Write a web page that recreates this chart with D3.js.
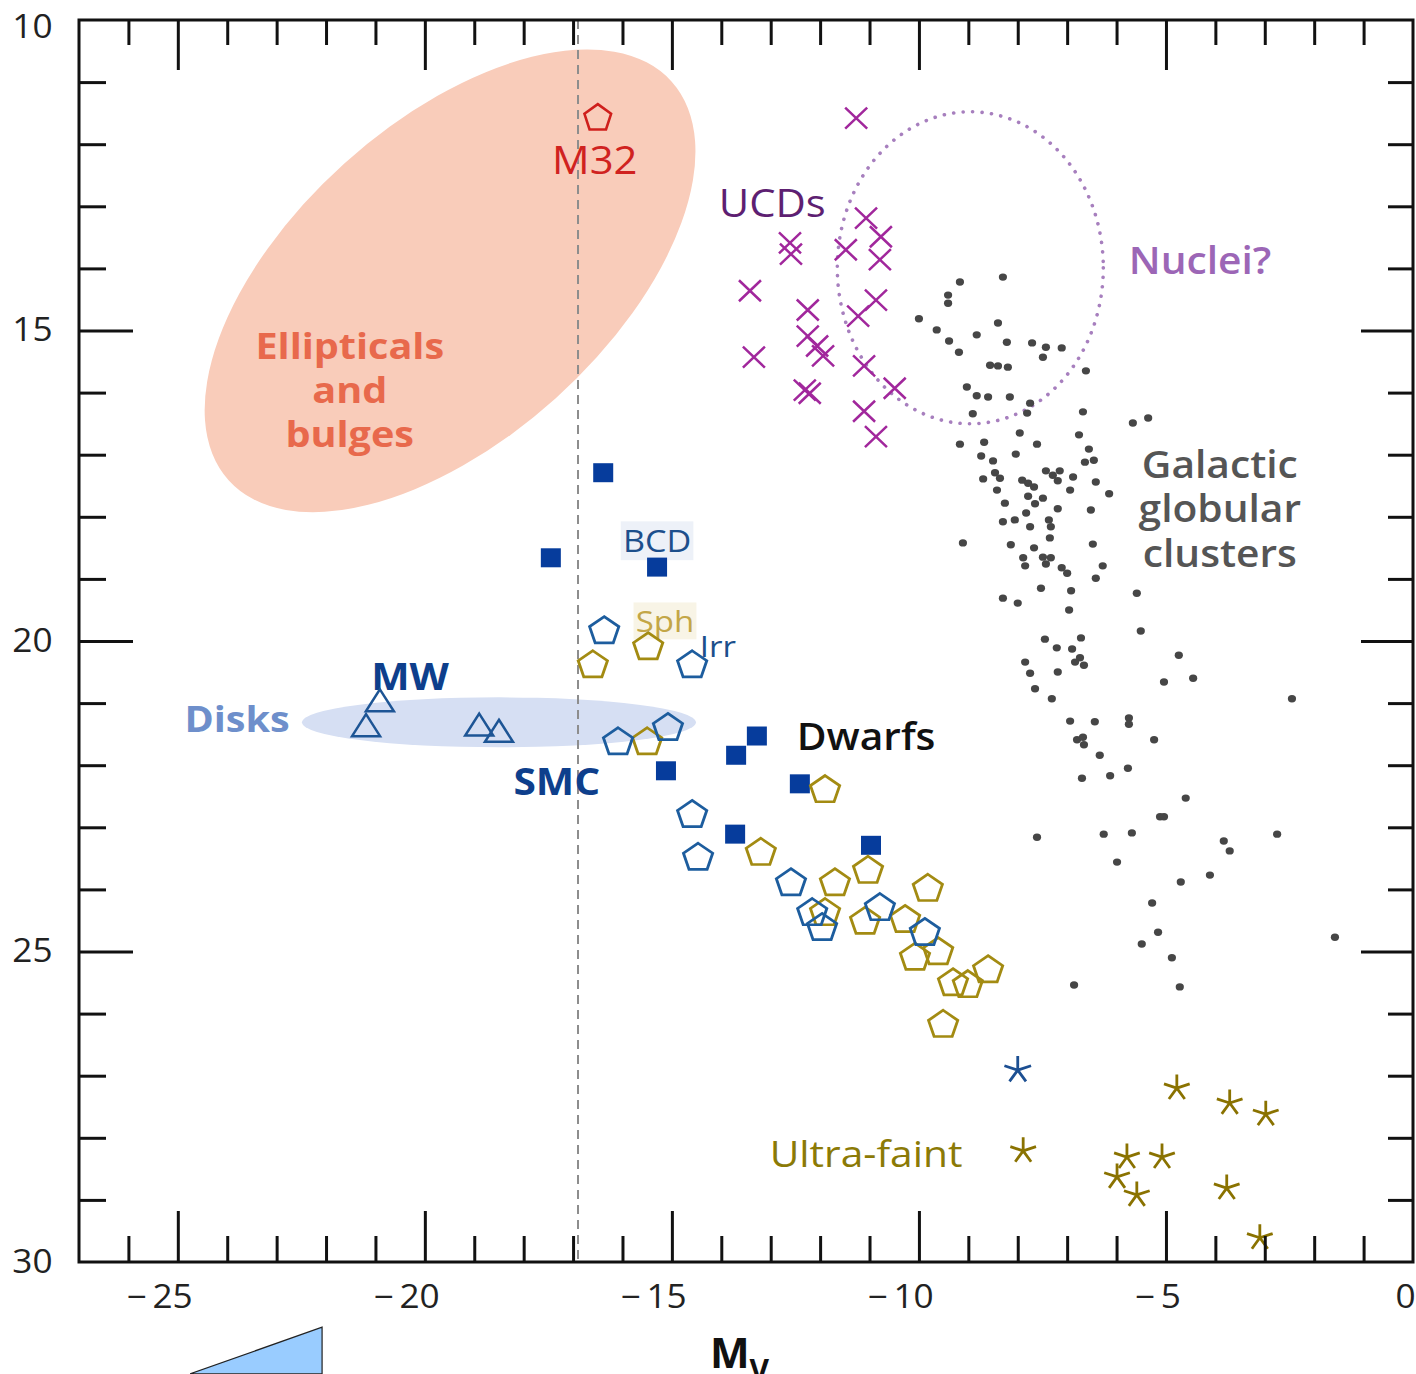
<!DOCTYPE html>
<html>
<head>
<meta charset="utf-8">
<script src="https://cdn.jsdelivr.net/npm/d3@7"></script>
<style>
  html, body { margin: 0; padding: 0; background: #fff; }
  svg { display: block; font-family: "Open Sans", "Noto Sans", sans-serif; }
</style>
</head>
<body>
<svg id="chart" width="1416" height="1374"></svg>
<script>
// ---------- data (M_V, surface-brightness axis value) ----------
const globularClusters = [
  [-9.17,14.22],[-8.30,14.14],[-9.41,14.43],[-9.41,14.56],[-10.00,14.81],[-8.40,14.88],[-9.64,14.99],
  [-8.83,15.07],[-9.39,15.17],[-8.22,15.19],[-7.71,15.20],[-7.43,15.27],[-7.11,15.28],[-7.49,15.43],
  [-9.19,15.35],[-8.56,15.56],[-8.40,15.57],[-8.20,15.59],[-6.62,15.65],[-9.03,15.91],[-8.83,16.05],
  [-8.60,16.07],[-8.16,16.07],[-7.75,16.17],[-7.81,16.33],[-8.91,16.34],[-6.68,16.31],[-5.67,16.49],
  [-5.36,16.41],[-7.96,16.65],[-6.76,16.68],[-9.17,16.83],[-8.68,16.80],[-7.61,16.83],[-8.04,16.99],
  [-6.56,16.91],[-8.74,17.02],[-8.50,17.10],[-6.64,17.12],[-6.46,17.09],[-8.70,17.39],[-8.46,17.29],
  [-8.36,17.38],[-7.91,17.41],[-7.79,17.46],[-7.67,17.52],[-7.43,17.26],[-7.29,17.33],[-7.15,17.26],
  [-7.19,17.42],[-6.88,17.36],[-6.42,17.44],[-8.42,17.57],[-6.94,17.57],[-6.15,17.63],[-7.79,17.67],
  [-7.49,17.70],[-7.65,17.79],[-8.26,17.78],[-7.19,17.87],[-6.52,17.89],[-7.83,17.94],[-8.30,18.08],
  [-8.06,18.05],[-7.75,18.16],[-7.37,18.05],[-7.33,18.16],[-7.35,18.34],[-9.11,18.42],[-8.14,18.45],
  [-7.67,18.50],[-6.48,18.44],[-7.89,18.66],[-7.85,18.79],[-7.49,18.65],[-7.43,18.76],[-7.33,18.66],
  [-7.11,18.82],[-7.00,18.91],[-6.28,18.79],[-6.42,18.99],[-7.53,19.15],[-6.92,19.19],[-5.59,19.23],
  [-8.30,19.31],[-8.00,19.39],[-6.96,19.50],[-5.51,19.84],[-7.45,19.97],[-6.72,19.95],[-7.21,20.11],
  [-6.90,20.13],[-6.74,20.27],[-6.84,20.34],[-6.66,20.39],[-7.85,20.34],[-7.75,20.52],[-7.19,20.50],
  [-4.74,20.23],[-4.45,20.60],[-5.04,20.66],[-2.45,20.93],[-7.65,20.77],[-7.31,20.93],[-6.94,21.29],
  [-6.44,21.30],[-5.75,21.24],[-5.75,21.34],[-6.80,21.59],[-6.68,21.55],[-6.66,21.67],[-5.24,21.59],
  [-6.34,21.84],[-5.77,22.05],[-6.70,22.21],[-6.13,22.17],[-4.60,22.53],[-5.12,22.83],[-5.04,22.83],
  [-7.61,23.16],[-6.26,23.11],[-5.69,23.09],[-3.83,23.22],[-3.71,23.38],[-2.75,23.11],[-5.99,23.56],
  [-4.70,23.88],[-4.11,23.77],[-5.28,24.22],[-5.16,24.69],[-5.49,24.88],[-4.88,25.10],[-1.58,24.77],
  [-6.86,25.54],[-4.72,25.57]
];

const ucds = [
  [-11.27,11.58],[-11.07,13.19],[-10.77,13.49],[-12.61,13.59],[-12.59,13.77],[-11.48,13.70],
  [-10.79,13.86],[-13.42,14.36],[-10.87,14.51],[-12.25,14.67],[-11.23,14.77],[-12.25,15.09],
  [-12.06,15.25],[-11.94,15.41],[-13.34,15.43],[-11.11,15.57],[-12.31,15.96],[-12.21,16.01],
  [-10.49,15.93],[-11.11,16.30],[-10.87,16.71]
];

const m32 = [[-16.50,11.58]];

const bcd = [
  [-16.39,17.29],[-17.45,18.66],[-15.30,18.81],[-13.28,21.53],[-13.70,21.84],
  [-15.12,22.09],[-12.41,22.30],[-13.72,23.11],[-10.97,23.29]
];

const irregulars = [
  [-16.37,19.84],[-14.59,20.39],[-16.09,21.63],[-15.08,21.40],[-14.59,22.80],[-14.47,23.49],
  [-12.59,23.90],[-12.16,24.38],[-11.96,24.62],[-10.79,24.30],[-9.88,24.70]
];

const spheroidals = [
  [-15.48,20.10],[-16.60,20.39],[-15.50,21.63],[-11.90,22.40],[-13.20,23.41],[-11.70,23.90],
  [-11.03,23.70],[-9.82,23.99],[-11.90,24.38],[-11.09,24.52],[-10.28,24.49],[-10.08,25.10],
  [-9.61,25.01],[-9.31,25.51],[-9.01,25.54],[-8.60,25.30],[-9.51,26.18]
];

const disks = [[-20.91,20.98],[-21.19,21.38],[-18.90,21.37],[-18.50,21.47]];

const ultraFaintBlue = [[-8.00,26.91]];

const ultraFaint = [
  [-4.78,27.20],[-3.71,27.44],[-2.98,27.62],[-7.89,28.21],[-5.79,28.31],
  [-5.08,28.31],[-5.99,28.63],[-5.59,28.92],[-3.77,28.81],[-3.10,29.61]
];

const smcMagnitude = -16.9;

// region centres (M_V, axis value)
const ellipticalRegion = [-19.49, 14.2];
const nucleiRegion = [-8.96, 13.99];
const diskRegion = [-18.5, 21.31];

const xMajorTicks = [-25, -20, -15, -10, -5, 0];
const xMinorTicks = [-26,-24,-23,-22,-21,-19,-18,-17,-16,-14,-13,-12,-11,-9,-8,-7,-6,-4,-3,-2,-1];
const yMajorTicks = [10, 15, 20, 25, 30];
const yMinorTicks = [11,12,13,14,16,17,18,19,21,22,23,24,26,27,28,29];

const labels = [
  { text: "M32", at: [-16.56, 12.25], color: "#d0221f", size: 38, weight: 500 },
  { text: "UCDs", at: [-12.97, 12.93], color: "#5e1f72", size: 38, weight: 500 },
  { text: "Nuclei?", at: [-4.31, 13.86], color: "#9c66b6", size: 37, weight: 600 },
  { text: "Ellipticals", at: [-21.52, 15.23], color: "#e8694c", size: 36, weight: 700 },
  { text: "and", at: [-21.52, 15.94], color: "#e8694c", size: 36, weight: 700 },
  { text: "bulges", at: [-21.52, 16.65], color: "#e8694c", size: 36, weight: 700 },
  { text: "Galactic", at: [-3.91, 17.13], color: "#555555", size: 37, weight: 600 },
  { text: "globular", at: [-3.91, 17.84], color: "#555555", size: 37, weight: 600 },
  { text: "clusters", at: [-3.91, 18.57], color: "#555555", size: 37, weight: 600 },
  { text: "BCD", at: [-15.30, 18.37], color: "#1c4f8c", size: 31, weight: 400, bg: "#edf1f8" },
  { text: "Sph", at: [-15.14, 19.66], color: "#c3a646", size: 30, weight: 400, bg: "#f8f4e6" },
  { text: "Irr", at: [-14.07, 20.06], color: "#1c4f8c", size: 30, weight: 400 },
  { text: "MW", at: [-20.30, 20.55], color: "#0e3f8c", size: 37, weight: 700 },
  { text: "Disks", at: [-23.80, 21.24], color: "#6e8fcb", size: 36, weight: 700 },
  { text: "SMC", at: [-17.33, 22.24], color: "#0e3f8c", size: 37, weight: 700 },
  { text: "Dwarfs", at: [-11.07, 21.51], color: "#111111", size: 37, weight: 600 },
  { text: "Ultra-faint", at: [-11.07, 28.24], color: "#8b7a06", size: 37, weight: 400 }
];

// glyphs in this figure are set slightly wide
const textStretch = 1.1;

// ---------- scales ----------
const svg = d3.select("#chart");
const x = d3.scaleLinear().domain([-27, 0]).range([79, 1413]);
const y = d3.scaleLinear().domain([10, 30]).range([20, 1262]);

// ---------- marker shapes ----------
function pentagon(r) {
  const pts = d3.range(5).map(i => {
    const a = -Math.PI / 2 + i * 2 * Math.PI / 5;
    return [r * Math.cos(a), r * Math.sin(a)];
  });
  return "M" + pts.map(p => p.join(",")).join("L") + "Z";
}
function asterisk(r) {
  return d3.range(5).map(i => {
    const a = -Math.PI / 2 + i * 2 * Math.PI / 5;
    return `M0,0L${r * Math.cos(a)},${r * Math.sin(a)}`;
  }).join("");
}
const crossPath = "M-11,-10.5L11,10.5M-11,10.5L11,-10.5";
const trianglePath = "M0,-12.5L14,9.5L-14,9.5Z";

// ---------- shaded regions ----------
const regions = svg.append("g");
regions.append("ellipse")
  .attr("transform", `translate(${x(ellipticalRegion[0])},${y(ellipticalRegion[1])}) rotate(-42)`)
  .attr("rx", 298).attr("ry", 158)
  .attr("fill", "#f9ccba");
regions.append("ellipse")
  .attr("cx", x(diskRegion[0])).attr("cy", y(diskRegion[1]))
  .attr("rx", 197).attr("ry", 25)
  .attr("fill", "#d6dff3");
regions.append("ellipse")
  .attr("cx", x(nucleiRegion[0])).attr("cy", y(nucleiRegion[1]))
  .attr("rx", 133).attr("ry", 156)
  .attr("fill", "none")
  .attr("stroke", "#a77fbe")
  .attr("stroke-width", 3.6)
  .attr("stroke-linecap", "round")
  .attr("stroke-dasharray", "0.1 9.4");

// SMC magnitude reference line
svg.append("line")
  .attr("x1", x(smcMagnitude)).attr("x2", x(smcMagnitude))
  .attr("y1", y(10)).attr("y2", y(30))
  .attr("stroke", "#8d8d8d").attr("stroke-width", 2)
  .attr("stroke-dasharray", "9 6");

// ---------- labels ----------
const labelG = svg.append("g");
labels.forEach(l => {
  const g = labelG.append("g")
    .attr("transform", `translate(${x(l.at[0])},${y(l.at[1])}) scale(${textStretch},1)`);
  const t = g.append("text")
    .attr("text-anchor", "middle")
    .attr("dominant-baseline", "central")
    .attr("font-size", l.size)
    .attr("font-weight", l.weight)
    .attr("fill", l.color)
    .text(l.text);
  if (l.bg) {
    const b = t.node().getBBox();
    g.insert("rect", () => t.node())
      .attr("x", b.x - 2).attr("y", b.y + 3)
      .attr("width", b.width + 4).attr("height", b.height - 4)
      .attr("fill", l.bg);
  }
});

// ---------- data marks ----------
const marks = svg.append("g");

marks.selectAll(".gc").data(globularClusters).join("ellipse")
  .attr("cx", d => x(d[0])).attr("cy", d => y(d[1]))
  .attr("rx", 4.1).attr("ry", 3.7).attr("fill", "#464646");

marks.selectAll(".ucd").data(ucds).join("path")
  .attr("transform", d => `translate(${x(d[0])},${y(d[1])})`)
  .attr("d", crossPath)
  .attr("fill", "none").attr("stroke", "#a1279c").attr("stroke-width", 2.5);

marks.selectAll(".m32").data(m32).join("path")
  .attr("transform", d => `translate(${x(d[0])},${y(d[1])})`)
  .attr("d", pentagon(14))
  .attr("fill", "none").attr("stroke", "#cf1f1c").attr("stroke-width", 2.6);

marks.selectAll(".disk").data(disks).join("path")
  .attr("transform", d => `translate(${x(d[0])},${y(d[1])})`)
  .attr("d", trianglePath)
  .attr("fill", "none").attr("stroke", "#1d5595").attr("stroke-width", 2.5);

marks.selectAll(".bcd").data(bcd).join("rect")
  .attr("x", d => x(d[0]) - 10).attr("y", d => y(d[1]) - 9.5)
  .attr("width", 20).attr("height", 19)
  .attr("fill", "#063c9c");

marks.selectAll(".sph").data(spheroidals).join("path")
  .attr("transform", d => `translate(${x(d[0])},${y(d[1])}) scale(1.06,1)`)
  .attr("d", pentagon(14.5))
  .attr("fill", "none").attr("stroke", "#a38b12").attr("stroke-width", 2.7);

marks.selectAll(".irr").data(irregulars).join("path")
  .attr("transform", d => `translate(${x(d[0])},${y(d[1])}) scale(1.06,1)`)
  .attr("d", pentagon(14.5))
  .attr("fill", "none").attr("stroke", "#1d5d9e").attr("stroke-width", 2.7);

marks.selectAll(".ufb").data(ultraFaintBlue).join("path")
  .attr("transform", d => `translate(${x(d[0])},${y(d[1])})`)
  .attr("d", asterisk(14))
  .attr("fill", "none").attr("stroke", "#1c4f92").attr("stroke-width", 2.8);

marks.selectAll(".uf").data(ultraFaint).join("path")
  .attr("transform", d => `translate(${x(d[0])},${y(d[1])})`)
  .attr("d", asterisk(13.5))
  .attr("fill", "none").attr("stroke", "#8a7200").attr("stroke-width", 2.8);

// ---------- axes: inward ticks on all four sides ----------
const axisG = svg.append("g");
function tickLayer(axis, transform) {
  const g = axisG.append("g").attr("transform", transform).call(axis);
  g.select(".domain").remove();
  g.selectAll(".tick line").attr("stroke", "#111").attr("stroke-width", 3);
  return g;
}
const noLabel = () => "";
tickLayer(d3.axisBottom(x).tickValues(xMinorTicks).tickSize(-26).tickFormat(noLabel), `translate(0,${y(30)})`);
tickLayer(d3.axisBottom(x).tickValues(xMajorTicks.slice(0, -1)).tickSize(-51).tickFormat(noLabel), `translate(0,${y(30)})`);
tickLayer(d3.axisTop(x).tickValues(xMinorTicks).tickSize(-25).tickFormat(noLabel), `translate(0,${y(10)})`);
tickLayer(d3.axisTop(x).tickValues(xMajorTicks.slice(0, -1)).tickSize(-50).tickFormat(noLabel), `translate(0,${y(10)})`);
tickLayer(d3.axisLeft(y).tickValues(yMinorTicks).tickSize(-27).tickFormat(noLabel), `translate(${x(-27)},0)`);
tickLayer(d3.axisLeft(y).tickValues(yMajorTicks.slice(1, -1)).tickSize(-54).tickFormat(noLabel), `translate(${x(-27)},0)`);
tickLayer(d3.axisRight(y).tickValues(yMinorTicks).tickSize(-25).tickFormat(noLabel), `translate(${x(0)},0)`);
tickLayer(d3.axisRight(y).tickValues(yMajorTicks.slice(1, -1)).tickSize(-52).tickFormat(noLabel), `translate(${x(0)},0)`);

// frame
axisG.append("rect")
  .attr("x", x(-27)).attr("y", y(10))
  .attr("width", x(0) - x(-27)).attr("height", y(30) - y(10))
  .attr("fill", "none").attr("stroke", "#111").attr("stroke-width", 3);

// tick labels
const xLab = axisG.append("g").attr("transform", `translate(0,${y(30)})`)
  .call(d3.axisBottom(x).tickValues(xMajorTicks).tickSize(0).tickPadding(23)
    .tickFormat(d => d === 0 ? "0" : "\u2212\u2009" + Math.abs(d)));
xLab.select(".domain").remove();
xLab.selectAll("text")
  .attr("font-family", "'Open Sans', 'Noto Sans', sans-serif")
  .attr("font-size", 32).attr("fill", "#222")
  .attr("text-anchor", "end")
  .attr("transform", `scale(${textStretch},1)`)
  .attr("dx", d => d === 0 ? 2 : 13);

const yLab = axisG.append("g").attr("transform", `translate(${x(-27)},0)`)
  .call(d3.axisLeft(y).tickValues(yMajorTicks).tickSize(0).tickPadding(24).tickFormat(d3.format("d")));
yLab.select(".domain").remove();
yLab.selectAll("text")
  .attr("font-family", "'Open Sans', 'Noto Sans', sans-serif")
  .attr("font-size", 32).attr("fill", "#222")
  .attr("transform", `scale(${textStretch},1)`)
  .attr("dy", d => d === 10 ? "0.55em" : "0.32em");

// axis title M_V
const title = svg.append("text")
  .attr("x", 710).attr("y", 1368)
  .attr("font-size", 42).attr("font-weight", 700).attr("fill", "#111");
title.append("tspan").text("M");
title.append("tspan").attr("font-size", 30).attr("dy", 13).text("V");

// small wedge below the axis
const wedge = [[-24.75, 31.80], [-22.08, 31.05], [-22.08, 31.80]];
svg.append("path")
  .attr("d", d3.line().x(d => x(d[0])).y(d => y(d[1]))(wedge) + "Z")
  .attr("fill", "#99ccff").attr("stroke", "#222").attr("stroke-width", 1.2);
</script>
</body>
</html>
